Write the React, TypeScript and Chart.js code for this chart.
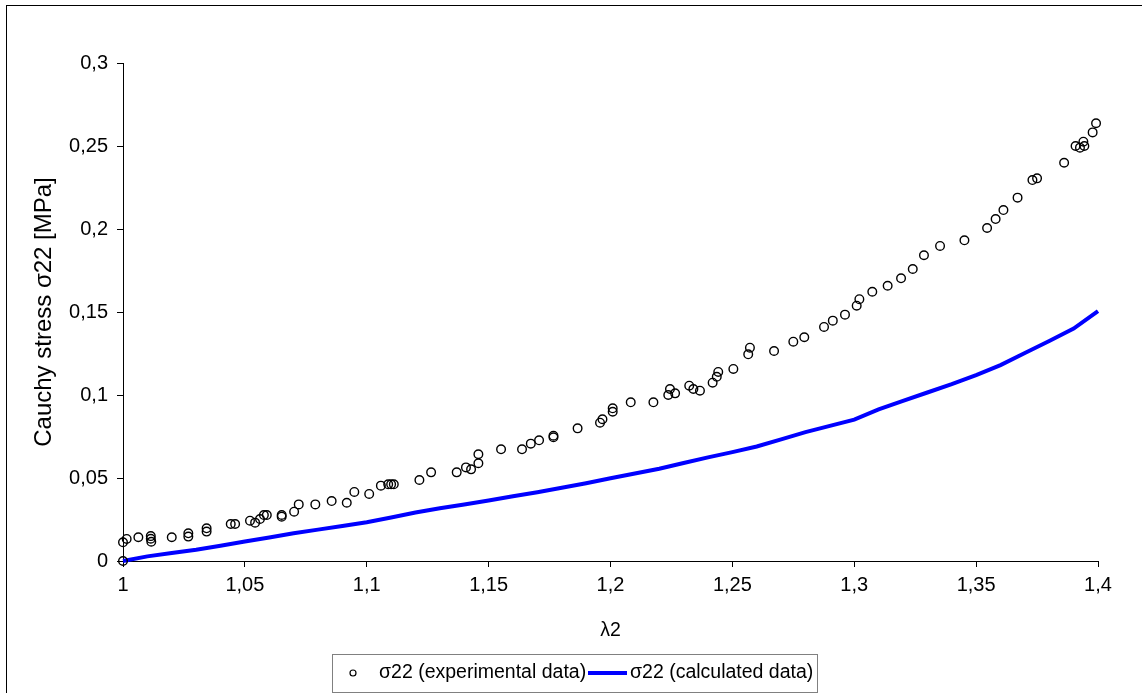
import React, { useEffect, useRef } from "react";
import { Chart, registerables } from "chart.js";

Chart.register(...registerables);

// Experimental data (λ2, σ22 in MPa)
const expX = [
  1.0, 1.0, 1.0015, 1.0063, 1.0114, 1.0114, 1.0116, 1.02, 1.0268, 1.0268,
  1.0343, 1.0343, 1.0442, 1.046, 1.0521, 1.0542, 1.0562, 1.0578, 1.059, 1.0651,
  1.0651, 1.0702, 1.0721, 1.0789, 1.0856, 1.0918, 1.0949, 1.101, 1.1058, 1.1088,
  1.11, 1.1111, 1.1216, 1.1264, 1.1369, 1.1407, 1.1428, 1.1458, 1.1458, 1.1551,
  1.1637, 1.1673, 1.1707, 1.1766, 1.1766, 1.1865, 1.1957, 1.1967, 1.2009, 1.2009,
  1.2083, 1.2176, 1.2237, 1.2244, 1.2265, 1.2323, 1.234, 1.2367, 1.2419, 1.2436,
  1.2442, 1.2504, 1.2565, 1.2572, 1.2671, 1.275, 1.2795, 1.2876, 1.2912, 1.2962,
  1.301, 1.3021, 1.3074, 1.3137, 1.3192, 1.324, 1.3286, 1.3352, 1.3452, 1.3545,
  1.358, 1.3612, 1.367, 1.3731, 1.375, 1.3861, 1.3908, 1.3926, 1.394, 1.3944,
  1.3978, 1.3992,
];
const expY = [
  0.0, 0.0113, 0.0133, 0.0143, 0.015, 0.0134, 0.0116, 0.0143, 0.0167, 0.0147,
  0.0197, 0.0177, 0.0223, 0.0223, 0.0243, 0.0231, 0.0253, 0.0277, 0.0277, 0.0277,
  0.0267, 0.0297, 0.0341, 0.0341, 0.0361, 0.0351, 0.0416, 0.0404, 0.0454, 0.0462,
  0.0462, 0.0462, 0.0488, 0.0534, 0.0534, 0.0564, 0.0552, 0.0589, 0.0643, 0.0673,
  0.0673, 0.0707, 0.0727, 0.0755, 0.0745, 0.0799, 0.0833, 0.0854, 0.0899, 0.092,
  0.0956, 0.0956, 0.1, 0.1036, 0.101, 0.1056, 0.1036, 0.1026, 0.1074, 0.111,
  0.1139, 0.1157, 0.1245, 0.1285, 0.1265, 0.1321, 0.1348, 0.141, 0.1448, 0.1484,
  0.1538, 0.1577, 0.1622, 0.1658, 0.1703, 0.1759, 0.1842, 0.1898, 0.1932, 0.2006,
  0.206, 0.2114, 0.2189, 0.2295, 0.2305, 0.2399, 0.25, 0.249, 0.2526, 0.25,
  0.2582, 0.2637,
];

// Calculated data
const calcX = [
  1.0, 1.01, 1.02, 1.03, 1.04, 1.05, 1.06, 1.07, 1.08, 1.09,
  1.1, 1.11, 1.12, 1.13, 1.14, 1.15, 1.16, 1.17, 1.18, 1.19,
  1.2, 1.21, 1.22, 1.23, 1.24, 1.25, 1.26, 1.27, 1.28, 1.29,
  1.3, 1.31, 1.32, 1.33, 1.34, 1.35, 1.36, 1.37, 1.38, 1.39, 1.4,
];
const calcY = [
  0.0, 0.0028, 0.0048, 0.0068, 0.0092, 0.0117, 0.0142, 0.0167, 0.0189, 0.0211,
  0.0234, 0.0262, 0.0292, 0.0318, 0.034, 0.0364, 0.039, 0.0414, 0.0441, 0.0468,
  0.0498, 0.0527, 0.0556, 0.059, 0.0624, 0.0656, 0.069, 0.0733, 0.0776, 0.0814,
  0.0852, 0.0913, 0.0965, 0.1015, 0.1065, 0.112, 0.118, 0.1253, 0.1325, 0.14, 0.1505,
];

const seriesLabels = ["σ22 (experimental data)", "σ22 (calculated data)"];
const xTitle = "λ2";
const yTitle = "Cauchy stress σ22 [MPa]";

const FONT = "'Liberation Sans', Arial, sans-serif";

const fmt = (v: number) => {
  const s = String(Number(v.toFixed(2)));
  return s.replace(".", ",");
};

const decorPlugin = {
  id: "decor",
  afterDraw(chart: any) {
    const ctx = chart.ctx as CanvasRenderingContext2D;
    ctx.save();
    // outer frame
    ctx.strokeStyle = "#000";
    ctx.lineWidth = 1;
    ctx.strokeRect(6.5, 5.5, 1300, 900);
    // legend box
    ctx.strokeStyle = "#808080";
    ctx.strokeRect(332.5, 654.5, 485, 38);
    const cy = 673;
    // marker
    ctx.strokeStyle = "#000";
    ctx.lineWidth = 1.2;
    ctx.beginPath();
    ctx.arc(353, cy, 3, 0, Math.PI * 2);
    ctx.stroke();
    ctx.fillStyle = "#000";
    ctx.font = `19.5px ${FONT}`;
    ctx.textBaseline = "middle";
    ctx.textAlign = "left";
    ctx.fillText(seriesLabels[0], 379, cy);
    // line sample
    ctx.strokeStyle = "#0000FF";
    ctx.lineWidth = 4;
    ctx.beginPath();
    ctx.moveTo(588, cy);
    ctx.lineTo(627, cy);
    ctx.stroke();
    ctx.fillText(seriesLabels[1], 630, cy);
    ctx.restore();
  },
};

export default function App() {
  const ref = useRef<HTMLCanvasElement | null>(null);
  useEffect(() => {
    if (!ref.current) return;
    const expData = expX.map((x, i) => ({ x, y: expY[i] }));
    const calcData = calcX.map((x, i) => ({ x, y: calcY[i] }));
    const chart = new Chart(ref.current, {
      type: "scatter",
      data: {
        datasets: [
          {
            label: seriesLabels[0],
            data: expData,
            pointStyle: "circle",
            pointRadius: 4.3,
            pointBorderWidth: 1.4,
            pointBorderColor: "#000",
            pointBackgroundColor: "rgba(255,255,255,0)",
            showLine: false,
            clip: false,
          } as any,
          {
            label: seriesLabels[1],
            data: calcData,
            showLine: true,
            borderColor: "#0000FF",
            borderWidth: 4,
            pointRadius: 0,
            tension: 0,
            clip: false,
          } as any,
        ],
      },
      options: {
        responsive: false,
        animation: false,
        devicePixelRatio: 1,
        layout: { padding: { left: 0, top: 63, right: 44, bottom: 0 } },
        plugins: {
          legend: { display: false },
          tooltip: { enabled: false },
        },
        scales: {
          x: {
            type: "linear",
            min: 1,
            max: 1.4,
            afterFit: (s: any) => {
              s.height = 132;
            },
            ticks: {
              stepSize: 0.05,
              color: "#000",
              font: { family: FONT, size: 20 },
              padding: 6,
              maxRotation: 0,
              callback: (v: any) => fmt(Number(v)),
            },
            grid: {
              drawOnChartArea: false,
              drawTicks: true,
              tickLength: 6,
              color: "#000",
            },
            border: { display: true, color: "#000", width: 1 },
            title: {
              display: true,
              text: xTitle,
              color: "#000",
              font: { family: FONT, size: 19.5 },
              padding: { top: 0, bottom: 51 },
            },
          },
          y: {
            type: "linear",
            min: 0,
            max: 0.3,
            afterFit: (s: any) => {
              s.width = 123;
            },
            ticks: {
              stepSize: 0.05,
              color: "#000",
              font: { family: FONT, size: 20 },
              padding: 9,
              callback: (v: any) => fmt(Number(v)),
            },
            grid: {
              drawOnChartArea: false,
              drawTicks: true,
              tickLength: 6,
              color: "#000",
            },
            border: { display: true, color: "#000", width: 1 },
            title: {
              display: true,
              text: yTitle,
              color: "#000",
              font: { family: FONT, size: 24 },
              padding: { top: 30, bottom: 0 },
            },
          },
        },
      } as any,
      plugins: [decorPlugin],
    });
    return () => chart.destroy();
  }, []);

  return (
    <div
      style={{
        position: "fixed",
        left: 0,
        top: 0,
        width: 1142,
        height: 693,
        background: "#fff",
      }}
    >
      <canvas ref={ref} width={1142} height={693} style={{ display: "block" }} />
    </div>
  );
}
